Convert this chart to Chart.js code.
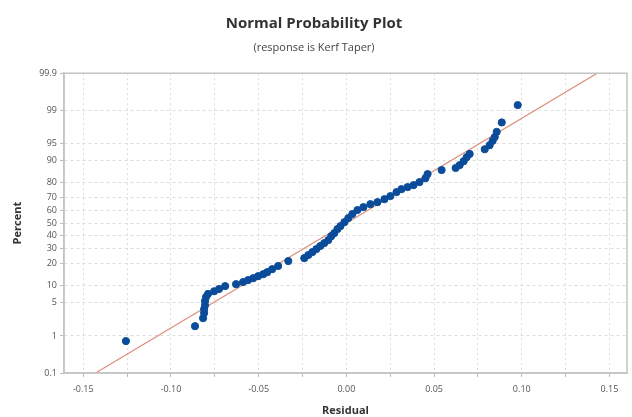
<!DOCTYPE html>
<html>
<head>
<meta charset="utf-8">
<script src="https://cdn.jsdelivr.net/npm/chart.js@4/dist/chart.umd.min.js"></script>
<style>
  html, body { margin: 0; padding: 0; background: #fff; }
  #wrap { width: 632px; height: 417px; }
</style>
</head>
<body>
<div id="wrap"><canvas id="npp"></canvas></div>
<script>
// ordered residuals and their plotted percent
const residuals = [
  -0.1257, -0.0863, -0.0817, -0.0811, -0.0811, -0.0806, -0.0806, -0.0800, -0.0789, -0.0754,
  -0.0726, -0.0691, -0.0629, -0.0589, -0.0560, -0.0531, -0.0503, -0.0474, -0.0451, -0.0423,
  -0.0389, -0.0331, -0.0240, -0.0217, -0.0194, -0.0171, -0.0149, -0.0126, -0.0103, -0.0086,
  -0.0069, -0.0051, -0.0034, -0.0011, 0.0011, 0.0034, 0.0063, 0.0097, 0.0137, 0.0177,
  0.0217, 0.0251, 0.0286, 0.0314, 0.0349, 0.0383, 0.0417, 0.0451, 0.0463, 0.0543,
  0.0623, 0.0646, 0.0669, 0.0686, 0.0703, 0.0789, 0.0817, 0.0834, 0.0846, 0.0857,
  0.0886, 0.0977
];
const percents = [
  0.75, 1.68, 2.5, 3.2, 3.8, 4.5, 5.4, 6.4, 7.2, 8.0,
  8.7, 9.7, 10.4, 11.2, 12.0, 12.8, 13.7, 14.6, 15.6, 17.1,
  18.8, 21.7, 23.5, 25.5, 27.5, 29.6, 31.8, 34.0, 36.3, 39.4,
  41.8, 45.1, 47.5, 50.8, 54.1, 57.4, 60.6, 62.9, 65.2, 66.7,
  68.9, 71.1, 73.9, 75.8, 77.1, 78.3, 80.1, 82.3, 84.4, 86.3,
  87.2, 88.4, 89.9, 91.3, 92.3, 93.6, 94.6, 95.5, 96.2, 97.0,
  98.1, 99.25
];

// fitted normal line end points
const fitResidual = [-0.143, 0.143];
const fitPercent = [0.1, 99.9];

const percentTicks = [0.1, 1, 5, 10, 20, 30, 40, 50, 60, 70, 80, 90, 95, 99, 99.9];
const residualTicks = [-0.15, -0.10, -0.05, 0.00, 0.05, 0.10, 0.15];

// inverse normal cdf (Acklam), used for the probability axis
function zOf(pct) {
  const p = pct / 100;
  const a = [-39.69683028665376, 220.9460984245205, -275.9285104469687, 138.3577518672690, -30.66479806614716, 2.506628277459239];
  const b = [-54.47609879822406, 161.5858368580409, -155.6989798598866, 66.80131188771972, -13.28068155288572];
  const c = [-0.007784894002430293, -0.3223964580411365, -2.400758277161838, -2.549732539343734, 4.374664141464968, 2.938163982698783];
  const d = [0.007784695709041462, 0.3224671290700398, 2.445134137142996, 3.754408661907416];
  const pl = 0.02425;
  let q, r;
  if (p < pl) {
    q = Math.sqrt(-2 * Math.log(p));
    return (((((c[0]*q+c[1])*q+c[2])*q+c[3])*q+c[4])*q+c[5]) / ((((d[0]*q+d[1])*q+d[2])*q+d[3])*q+1);
  }
  if (p > 1 - pl) {
    q = Math.sqrt(-2 * Math.log(1 - p));
    return -(((((c[0]*q+c[1])*q+c[2])*q+c[3])*q+c[4])*q+c[5]) / ((((d[0]*q+d[1])*q+d[2])*q+d[3])*q+1);
  }
  q = p - 0.5;
  r = q * q;
  return (((((a[0]*r+a[1])*r+a[2])*r+a[3])*r+a[4])*r+a[5])*q / (((((b[0]*r+b[1])*r+b[2])*r+b[3])*r+b[4])*r+1);
}

const points = residuals.map((x, i) => ({ x: x, y: zOf(percents[i]) }));
const fitLine = fitResidual.map((x, i) => ({ x: x, y: zOf(fitPercent[i]) }));

const gridColor = '#dcdcdc';
const tickFont = { family: 'Open Sans', size: 9 };

new Chart(document.getElementById('npp'), {
  type: 'scatter',
  data: {
    datasets: [
      {
        type: 'line',
        data: fitLine,
        borderColor: '#dc8f7e',
        borderWidth: 1.2,
        pointRadius: 0,
        fill: false,
        order: 2
      },
      {
        data: points,
        backgroundColor: '#0b4c9a',
        borderColor: '#0b4c9a',
        pointRadius: 3.6,
        order: 1
      }
    ]
  },
  options: {
    responsive: true,
    maintainAspectRatio: false,
    animation: false,
    layout: { padding: { left: 0, right: 4, top: 0, bottom: 0 } },
    plugins: {
      legend: { display: false },
      tooltip: { enabled: false },
      title: {
        display: true,
        text: 'Normal Probability Plot',
        color: '#333',
        font: { family: 'Open Sans', size: 15, weight: 'bold' },
        padding: { top: 15, bottom: 8 }
      },
      subtitle: {
        display: true,
        text: '(response is Kerf Taper)',
        color: '#444',
        font: { family: 'Open Sans', size: 11 },
        padding: { top: 0, bottom: 19 }
      }
    },
    scales: {
      x: {
        type: 'linear',
        min: -0.161,
        max: 0.16,
        afterBuildTicks: scale => {
          const t = [];
          for (let i = -6; i <= 6; i++) t.push({ value: i * 0.025 });
          scale.ticks = t;
        },
        afterFit: scale => { scale.height = 44; },
        ticks: {
          color: '#555',
          font: tickFont,
          padding: 7,
          autoSkip: false,
          maxRotation: 0,
          callback: v => {
            const s = residualTicks.find(r => Math.abs(r - v) < 1e-9);
            return s === undefined ? '' : s.toFixed(2);
          }
        },
        grid: { color: gridColor, tickLength: 4, tickColor: '#bbb' },
        border: { color: '#c4c4c4', width: 1.5, dash: [2, 3] },
        title: {
          display: true,
          text: 'Residual',
          color: '#333',
          font: { family: 'Open Sans', size: 11, weight: 'bold' },
          padding: { top: 0, bottom: 0 }
        }
      },
      y: {
        type: 'linear',
        min: zOf(0.1),
        max: zOf(99.9),
        afterBuildTicks: scale => {
          scale.ticks = percentTicks.map(p => ({ value: zOf(p) }));
        },
        afterFit: scale => { scale.width = 64; },
        ticks: {
          color: '#555',
          font: tickFont,
          padding: 3,
          autoSkip: false,
          callback: (v, i) => String(percentTicks[i])
        },
        grid: { color: gridColor, tickLength: 4, tickColor: '#bbb' },
        border: { color: '#c4c4c4', width: 1.5, dash: [3, 3] },
        title: {
          display: true,
          text: 'Percent',
          color: '#333',
          font: { family: 'Open Sans', size: 11, weight: 'bold' },
          padding: { top: 11, bottom: 0 }
        }
      }
    }
  },
  plugins: [{
    id: 'frame',
    afterDraw(chart) {
      const a = chart.chartArea, ctx = chart.ctx;
      ctx.save();
      ctx.strokeStyle = '#c4c4c4';
      ctx.lineWidth = 1.5;
      ctx.strokeRect(a.left, a.top, a.right - a.left, a.bottom - a.top);
      ctx.restore();
    }
  }]
});
</script>
</body>
</html>
